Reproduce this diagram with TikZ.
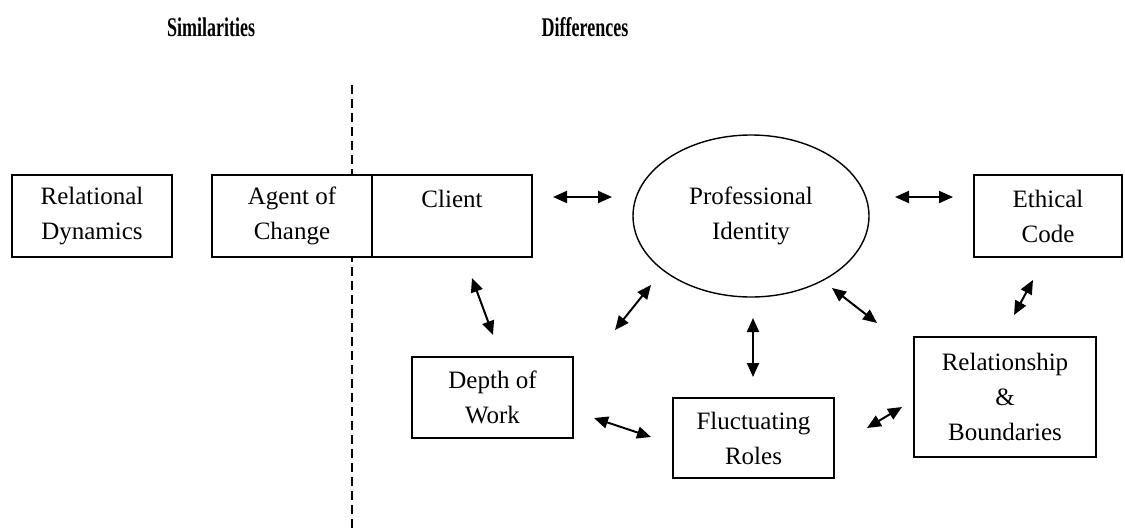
\documentclass[tikz,border=0pt]{standalone}
\usepackage{fontspec}
\setmainfont{Liberation Serif}
\usepackage{graphicx}
\usepackage{tikz}
\usetikzlibrary{
  arrows.meta,
  positioning,
  shapes.geometric
}
\tikzset{>={Triangle[length=7pt,width=6pt]}}
\tikzset{
  box/.style={draw, fill=white, line width=0.7pt, inner sep=0pt, outer sep=0pt,
    align=center, font=\fontsize{12.5}{17.5}\selectfont},
  link/.style={<->, line width=1pt},
  heading/.style={font=\fontsize{9}{11}\selectfont\bfseries}
}

\begin{document}
\begin{tikzpicture}[x=0.5pt,y=-0.5pt]
  \useasboundingbox (0,0) rectangle (1125,531);
  % headings
  \node[heading] (sim)  at (211,27) {\scalebox{1}[1.5]{Similarities}};
  \node[heading] (diff) at (585,27) {\scalebox{1}[1.5]{Differences}};
  % dividing line
  \draw[line width=1.3pt, dash pattern=on 4.5pt off 2.5pt] (352,85) -- (352,531);
  % boxes
  \node[box, minimum width=80pt, minimum height=41pt] (reldyn) at (92,216) {Relational\\Dynamics};
  \node[box, minimum width=80pt, minimum height=41pt] (agent) at (292,216) {Agent of\\Change};
  \node[box, minimum width=80pt, minimum height=41pt, right=0pt of agent] (client) {Client\\\mbox{}};
  \node[box, ellipse, minimum width=118pt, minimum height=81pt] (profid) at (751,216) {Professional\\Identity};
  \node[box, minimum width=74pt, minimum height=41pt] (ethics) at (1048,216) {Ethical\\Code};
  \node[box, minimum width=80.5pt, minimum height=40.5pt] (depth) at (492.5,397.5) {Depth of\\Work};
  \node[box, minimum width=80.5pt, minimum height=40pt] (roles) at (753.5,438) {Fluctuating\\Roles};
  \node[box, minimum width=91pt, minimum height=60pt] (bounds) at (1005,397) {Relationship\\\&\\Boundaries};
  % arrow ends
  \coordinate (c1) at (553,197);  \coordinate (p1) at (612,197);
  \coordinate (p2) at (895,197);  \coordinate (e1) at (953,197);
  \coordinate (e2) at (1033,280); \coordinate (b1) at (1014,315);
  \coordinate (c2) at (472,278);  \coordinate (d1) at (493,335);
  \coordinate (p3) at (651,285);  \coordinate (d2) at (615,330);
  \coordinate (p4) at (753,318);  \coordinate (r1) at (753,377);
  \coordinate (p5) at (832,288);  \coordinate (b2) at (877,323);
  \coordinate (d3) at (594,418);  \coordinate (r2) at (651,437);
  \coordinate (r3) at (867,428);  \coordinate (b3) at (902,407);
  % links
  \draw[link] (c1) -- (p1);
  \draw[link] (p2) -- (e1);
  \draw[link] (e2) -- (b1);
  \draw[link] (c2) -- (d1);
  \draw[link] (p3) -- (d2);
  \draw[link] (p4) -- (r1);
  \draw[link] (p5) -- (b2);
  \draw[link] (d3) -- (r2);
  \draw[link] (r3) -- (b3);
\end{tikzpicture}
\end{document}
